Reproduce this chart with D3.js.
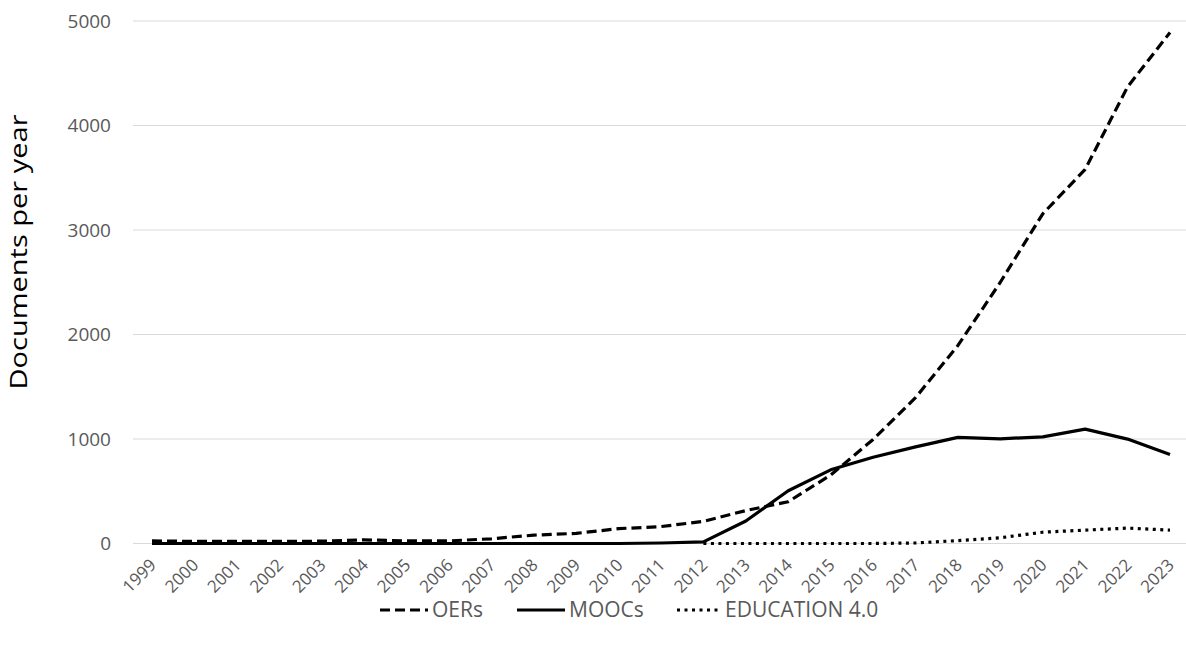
<!DOCTYPE html>
<html><head><meta charset="utf-8">
<script src="https://cdn.jsdelivr.net/npm/d3@7"></script>
<style>body{margin:0;background:#fff;} svg{display:block;}</style>
</head><body>
<svg id="c" width="1186" height="652"></svg>
<script>
const years = ["1999","2000","2001","2002","2003","2004","2005","2006","2007","2008","2009","2010","2011","2012","2013","2014","2015","2016","2017","2018","2019","2020","2021","2022","2023"];
const oers  = [25,20,20,20,22,35,25,25,45,80,97,142,162,212,315,400,655,995,1395,1895,2500,3155,3580,4370,4890];
const moocs = [0,0,0,0,0,0,0,0,0,0,0,0,5,15,215,505,705,826,925,1015,1002,1021,1094,999,851];
const edu   = [null,null,null,null,null,null,null,null,null,null,null,null,null,0,0,0,0,0,5,28,55,108,128,147,128];
const yTicks = [0,1000,2000,3000,4000,5000];
const seriesNames = ["OERs","MOOCs","EDUCATION 4.0"];

const svg = d3.select("#c");
const font = "'Open Sans', sans-serif";
const x = d3.scalePoint().domain(years).range([152,1170]);
const y = d3.scaleLinear().domain([0,5000]).range([543.5,21]);

// gridlines
svg.append("g").selectAll("line").data(yTicks).join("line")
  .attr("x1",133).attr("x2",1186)
  .attr("y1",d=>y(d)).attr("y2",d=>y(d))
  .attr("stroke","#d9d9d9").attr("stroke-width",1.2);

// y axis labels
const ya = svg.append("g").attr("transform","translate(111,0)")
  .call(d3.axisLeft(y).tickValues(yTicks).tickFormat(d3.format("d")).tickSize(0).tickPadding(0));
ya.select(".domain").remove();
ya.selectAll("text").attr("font-family",font).attr("font-size",19).attr("fill","#595959");

// x axis labels
const xa = svg.append("g")
  .call(d3.axisBottom(x).tickSize(0).tickPadding(0));
xa.select(".domain").remove();
xa.selectAll(".tick").attr("transform",d=>`translate(${x(d)+1},562)`);
xa.selectAll("text").attr("font-family",font).attr("font-size",17).attr("fill","#595959")
  .attr("text-anchor","end").attr("y",0).attr("dy","0.35em")
  .attr("transform","rotate(-45)");

// axis title
svg.append("text").attr("transform","translate(27,252) rotate(-90)")
  .attr("text-anchor","middle").attr("font-family",font).attr("font-size",23)
  .attr("textLength",275).attr("lengthAdjust","spacingAndGlyphs")
  .attr("fill","#000").text("Documents per year");

const styles = [
  {data:oers, dash:"10,5"},
  {data:moocs, dash:null},
  {data:edu, dash:"3,4.5"}
];
const line = d3.line().defined(d=>d.v!==null).x(d=>x(d.y)).y(d=>y(d.v));

[2,1,0].forEach(i=>{
  const s = styles[i];
  const pts = years.map((yr,k)=>({y:yr,v:s.data[k]}));
  const p = svg.append("path").datum(pts).attr("d",line)
    .attr("fill","none").attr("stroke","#000").attr("stroke-width",3.2)
    .attr("stroke-linejoin","round");
  if (s.dash) p.attr("stroke-dasharray",s.dash);
});

// legend
const legX = [380,517,677];
const legW = [48,48,44];
const lg = svg.append("g");
seriesNames.forEach((n,i)=>{
  const s = styles[i];
  const l = lg.append("line").attr("x1",legX[i]).attr("x2",legX[i]+legW[i])
    .attr("y1",610).attr("y2",610).attr("stroke","#000").attr("stroke-width",3.2);
  if (s.dash) l.attr("stroke-dasharray",s.dash);
  lg.append("text").attr("x",legX[i]+legW[i]+4).attr("y",610).attr("dy","0.35em")
    .attr("font-family",font).attr("font-size",21).attr("fill","#595959").text(n);
});
</script>
</body></html>
